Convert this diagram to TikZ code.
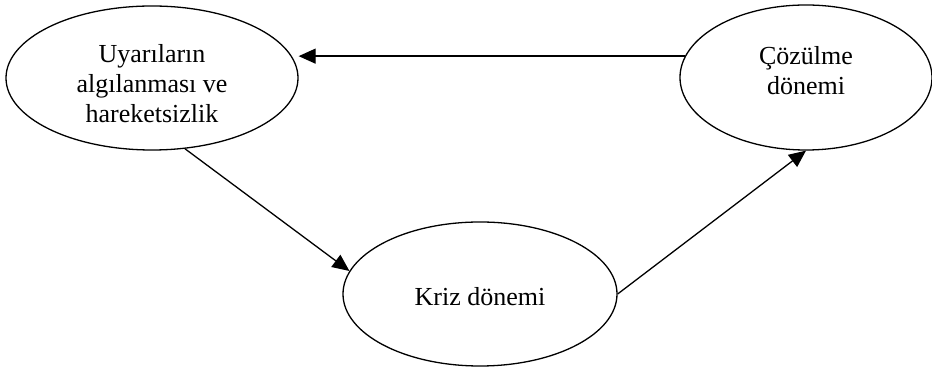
\documentclass[tikz,border=0pt]{standalone}
\usepackage{fontspec}
\setmainfont{Liberation Serif}
\usetikzlibrary{shapes.geometric,arrows.meta}
\begin{document}
\begin{tikzpicture}[x=1pt,y=1pt,
  stage/.style={draw=black,line width=1.3pt,ellipse,inner sep=0pt},
  lbl/.style={align=center,inner sep=0pt,font=\fontsize{26}{30}\selectfont},
  arr/.style={line width=1.3pt,-{Triangle[length=17pt,width=15pt]}}]
\useasboundingbox (0,0) rectangle (932,369);
\node[stage,minimum width=292pt,minimum height=144pt] (L) at (152,291) {};
\node[stage,minimum width=252pt,minimum height=145pt] (R) at (806,291.5) {};
\node[stage,minimum width=274pt,minimum height=144pt] (B) at (480,75) {};
\node[lbl] (Lt) at (152,285) {Uyarıların\\algılanması ve\\hareketsizlik};
\node[lbl] (Rt) at (806,298) {Çözülme\\dönemi};
\node[lbl] (Bt) at (480,72) {Kriz dönemi};
\draw[arr] (R.170) -- (L.east |- R.170);
\draw[arr] (L.-65) -- (B.170);
\draw[arr] (B.east) -- (R.south);
\end{tikzpicture}
\end{document}
